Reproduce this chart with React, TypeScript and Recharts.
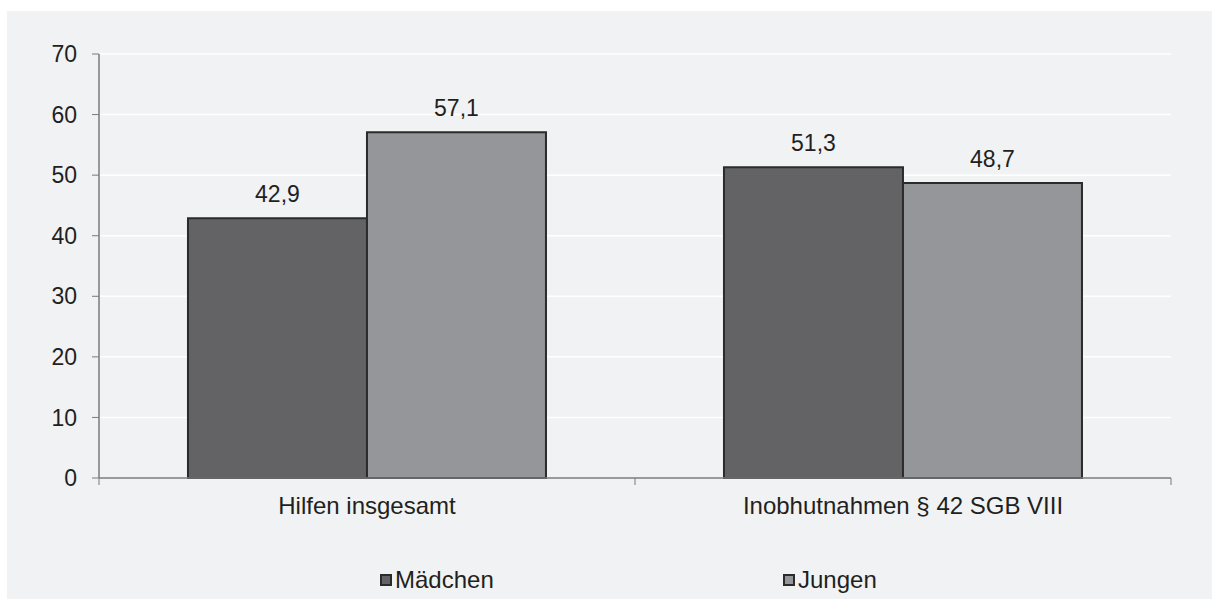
import React from 'react';
import { BarChart, Bar, XAxis, YAxis, CartesianGrid, LabelList, Legend } from 'recharts';

const categories = ['Hilfen insgesamt', 'Inobhutnahmen § 42 SGB VIII'];
const seriesNames = ['Mädchen', 'Jungen'];
const maedchen = [42.9, 51.3];
const jungen = [57.1, 48.7];
const yTicks = [0, 10, 20, 30, 40, 50, 60, 70];

const data = categories.map((name, i) => ({ name, maedchen: maedchen[i], jungen: jungen[i] }));

const BG = '#f1f2f4';
const AXIS = '#7a7a7a';
const TEXT = '#231f20';
const DARK = '#636365';
const LIGHT = '#959699';
const EDGE = '#2b2b2b';

const fmt = (v: any) => Number(v).toFixed(1).replace('.', ',');

// category label in the middle, tick marks on the band edges
const CategoryTick = (props: any) => {
  const { x, y, payload, index, visibleTicksCount } = props;
  const half = payload.offset ?? 0;
  const axisY = y - 7;
  return (
    <g>
      <line x1={x - half} x2={x - half} y1={axisY} y2={axisY + 7} stroke={AXIS} />
      {index === visibleTicksCount - 1 && (
        <line x1={x + half} x2={x + half} y1={axisY} y2={axisY + 7} stroke={AXIS} />
      )}
      <text x={x} y={axisY + 36} textAnchor="middle" fontSize={24} fill={TEXT}>
        {payload.value}
      </text>
    </g>
  );
};

const LegendContent = (props: any) => {
  const payload = [...(props.payload || [])].sort(
    (a: any, b: any) => seriesNames.indexOf(a.value) - seriesNames.indexOf(b.value)
  );
  return (
    <div style={{ display: 'flex', height: 24, paddingLeft: 373 }}>
      {payload.map((entry: any) => (
        <div key={entry.value} style={{ width: 403, display: 'flex', alignItems: 'center' }}>
          <span
            style={{
              width: 12,
              height: 12,
              boxSizing: 'border-box',
              border: `2px solid ${EDGE}`,
              background: entry.color,
              marginRight: 3,
            }}
          />
          <span style={{ fontSize: 24, color: TEXT, lineHeight: '24px' }}>{entry.value}</span>
        </div>
      ))}
    </div>
  );
};

const App = () => {
  return (
    <div
      style={{
        position: 'absolute',
        left: 7,
        top: 11,
        width: 1205,
        height: 588,
        background: BG,
        fontFamily: '"Liberation Sans", Arial, sans-serif',
      }}
    >
      <BarChart
        width={1205}
        height={588}
        data={data}
        margin={{ top: 43, right: 41, left: 22, bottom: 47 }}
        barCategoryGap="16.6%"
        barGap={0}
      >
        <CartesianGrid vertical={false} stroke="#ffffff" strokeWidth={1.5} />
        <XAxis
          dataKey="name"
          height={50}
          axisLine={{ stroke: AXIS, strokeWidth: 1.5 }}
          tickLine={false}
          tickSize={7}
          tickMargin={0}
          interval={0}
          tick={<CategoryTick />}
        />
        <YAxis
          width={70}
          domain={[0, 70]}
          ticks={yTicks}
          interval={0}
          axisLine={{ stroke: AXIS, strokeWidth: 1.5 }}
          tickLine={{ stroke: AXIS }}
          tickSize={7}
          tickMargin={15}
          tick={{ fill: TEXT, fontSize: 23 }}
        />
        <Legend
          verticalAlign="bottom"
          content={<LegendContent />}
          wrapperStyle={{ position: 'absolute', top: 557, left: 0, width: 1205, height: 24 }}
        />
        <Bar dataKey="maedchen" name={seriesNames[0]} fill={DARK} stroke={EDGE} strokeWidth={2} isAnimationActive={false}>
          <LabelList dataKey="maedchen" position="top" offset={16} formatter={fmt} fill={TEXT} fontSize={23} />
        </Bar>
        <Bar dataKey="jungen" name={seriesNames[1]} fill={LIGHT} stroke={EDGE} strokeWidth={2} isAnimationActive={false}>
          <LabelList dataKey="jungen" position="top" offset={16} formatter={fmt} fill={TEXT} fontSize={23} />
        </Bar>
      </BarChart>
    </div>
  );
};

export default App;
